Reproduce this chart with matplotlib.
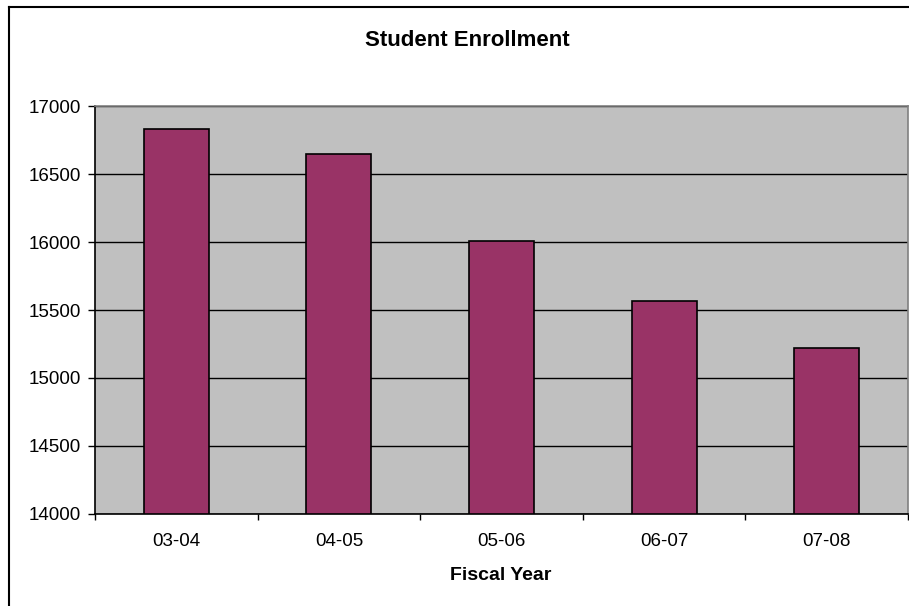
import matplotlib.pyplot as plt
import matplotlib.lines as mlines
import numpy as np

years = ["03-04", "04-05", "05-06", "06-07", "07-08"]
enrollment = [16832, 16645, 16004, 15565, 15219]

plt.rcParams["font.family"] = ["Liberation Sans", "DejaVu Sans"]

fig = plt.figure(figsize=(9.09, 6.06), dpi=100)
ax = fig.add_axes([95 / 909, 1 - 514 / 606, 813 / 909, 408 / 606])
ax.set_facecolor("#C0C0C0")

x = np.arange(len(years))
ax.bar(x, np.array(enrollment) - 14000, bottom=14000, width=0.4,
       color="#993366", edgecolor="black", linewidth=1.2, zorder=3)

ax.set_ylim(14000, 17000)
ax.set_xlim(-0.5, len(years) - 0.5)
ax.set_yticks(np.arange(14000, 17001, 500))
ax.yaxis.grid(True, color="black", linewidth=1, zorder=1)
ax.set_axisbelow(True)

# category boundaries get the tick marks, labels sit in the middle
ax.set_xticks(np.arange(-0.5, len(years)), labels=[""] * (len(years) + 1))
ax.set_xticks(x, labels=years, minor=True)
ax.tick_params(axis="x", which="major", length=4, width=1, color="black")
ax.tick_params(axis="x", which="minor", length=0, pad=14, labelsize=13.5)
ax.tick_params(axis="y", length=5, width=1, color="black", labelsize=13.5, pad=5)

for side in ("left", "bottom"):
    ax.spines[side].set_color("black")
    ax.spines[side].set_linewidth(1.2)
for side in ("top", "right"):
    ax.spines[side].set_color("#808080")
    ax.spines[side].set_linewidth(1.2)

fig.text(501 / 909, 1 - 576 / 606, "Fiscal Year", ha="center", va="center",
         fontsize=14, fontweight="bold")
fig.text(467 / 909, 1 - 40 / 606, "Student Enrollment", ha="center",
         va="center", fontsize=16, fontweight="bold")

# outer chart frame (right and bottom edges fall off the picture)
fig.add_artist(mlines.Line2D([9 / 909, 9 / 909], [0, 1 - 7 / 606],
                             color="black", linewidth=1.5))
fig.add_artist(mlines.Line2D([9 / 909, 1], [1 - 7 / 606, 1 - 7 / 606],
                             color="black", linewidth=1.5))

fig.savefig("out.png", dpi=100)
